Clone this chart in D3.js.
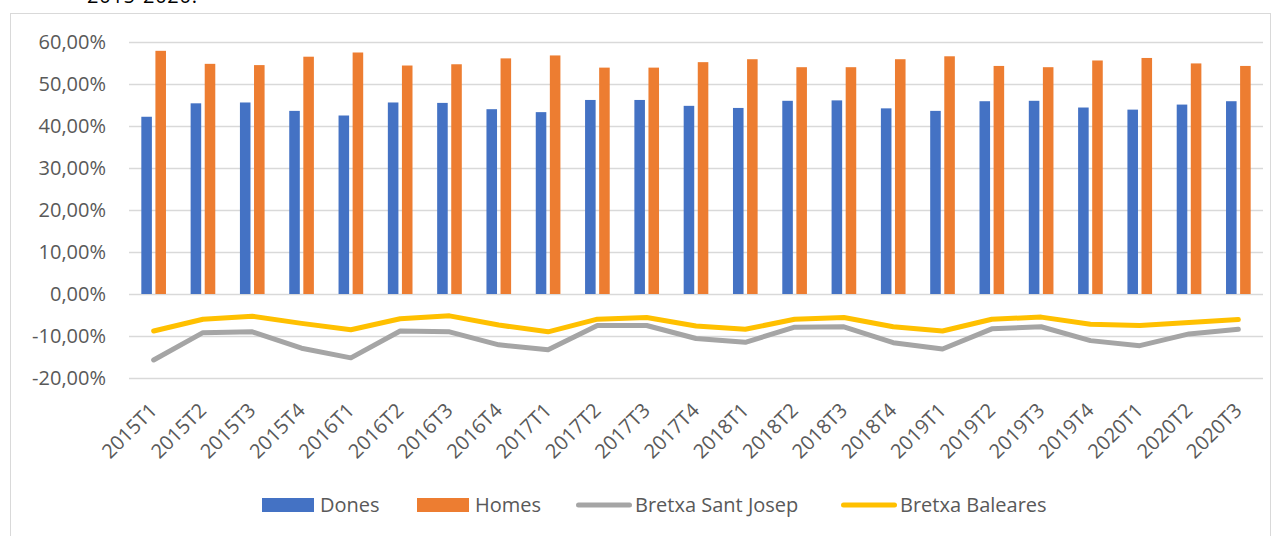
<!DOCTYPE html>
<html>
<head>
<meta charset="utf-8">
<script src="https://cdn.jsdelivr.net/npm/d3@7"></script>
<style>
  body { margin: 0; background: #fff; }
  svg { display: block; font-family: "Open Sans", sans-serif; }
</style>
</head>
<body>
<div id="chart"></div>
<script>
// quarters on the category axis
var categories = ["2015T1", "2015T2", "2015T3", "2015T4", "2016T1", "2016T2", "2016T3", "2016T4",
                  "2017T1", "2017T2", "2017T3", "2017T4", "2018T1", "2018T2", "2018T3", "2018T4",
                  "2019T1", "2019T2", "2019T3", "2019T4", "2020T1", "2020T2", "2020T3"];

// percentages
var dones = [42.2, 45.4, 45.6, 43.6, 42.5, 45.6, 45.5, 44.0, 43.3, 46.2, 46.2, 44.8,
             44.3, 46.0, 46.1, 44.2, 43.6, 45.9, 46.0, 44.4, 43.9, 45.1, 45.9];
var homes = [57.9, 54.8, 54.5, 56.5, 57.5, 54.4, 54.7, 56.1, 56.8, 53.9, 53.9, 55.2,
             55.9, 54.0, 54.0, 55.9, 56.6, 54.3, 54.0, 55.6, 56.2, 54.9, 54.3];
var bretxaSantJosep = [-15.7, -9.2, -9.0, -12.9, -15.2, -8.8, -9.0, -12.1, -13.3, -7.5, -7.5, -10.6,
                       -11.5, -7.9, -7.8, -11.6, -13.1, -8.3, -7.8, -11.1, -12.3, -9.5, -8.4];
var bretxaBaleares = [-8.8, -6.0, -5.3, -7.0, -8.5, -5.9, -5.2, -7.4, -9.0, -6.0, -5.6, -7.6,
                      -8.4, -6.0, -5.6, -7.8, -8.8, -6.0, -5.5, -7.2, -7.5, -6.8, -6.1];

var yTicks = [-20, -10, 0, 10, 20, 30, 40, 50, 60];
var barSeries = ["Dones", "Homes"];
var lineSeries = ["Bretxa Sant Josep", "Bretxa Baleares"];

var width = 1278, height = 536;
var colors = {"Dones": "#4472C4", "Homes": "#ED7D31", "Bretxa Sant Josep": "#A5A5A5", "Bretxa Baleares": "#FFC000"};
var textColor = "#595959";

var svg = d3.select("#chart").append("svg")
    .attr("width", width)
    .attr("height", height);

// caption cut off at the top of the picture
svg.append("text")
    .attr("x", 87).attr("y", 3)
    .attr("font-size", 20)
    .attr("textLength", 110)
    .attr("fill", "#000")
    .text("2015-2020.");

// chart frame
svg.append("rect")
    .attr("x", 10.5).attr("y", 13.5)
    .attr("width", 1260).attr("height", 540)
    .attr("fill", "#fff")
    .attr("stroke", "#d9d9d9");

var plot = {left: 129, right: 1263, top: 42, bottom: 378};

var x0 = d3.scaleBand().domain(categories).range([plot.left, plot.right]).padding(0);
var bw = x0.bandwidth();
var x1 = d3.scaleBand().domain(barSeries).range([bw * 0.25, bw * 0.75]).paddingInner(0.25);
var y = d3.scaleLinear().domain([-20, 60]).range([plot.bottom, plot.top]);

var locale = d3.formatLocale({decimal: ",", thousands: ".", grouping: [3], currency: ["", "€"], minus: "-"});
var pct = locale.format(".2%");

// gridlines
svg.append("g")
    .attr("transform", "translate(" + plot.left + ",0)")
    .call(d3.axisLeft(y).tickValues(yTicks).tickSize(-(plot.right - plot.left)).tickFormat(""))
    .call(function(g) {
        g.select(".domain").remove();
        g.selectAll("line").attr("stroke", "#d9d9d9").attr("stroke-width", 1.3);
    });

// y labels
svg.append("g")
    .attr("transform", "translate(" + plot.left + ",0)")
    .call(d3.axisLeft(y).tickValues(yTicks).tickSize(0).tickPadding(23)
          .tickFormat(function(d) { return pct(d / 100); }))
    .call(function(g) {
        g.select(".domain").remove();
        g.selectAll("text")
            .attr("font-family", "'Open Sans', sans-serif")
            .attr("font-size", 20)
            .attr("fill", textColor);
    });

// bars
var groups = svg.append("g").selectAll("g")
    .data(categories)
    .enter().append("g")
    .attr("transform", function(d) { return "translate(" + x0(d) + ",0)"; });

groups.selectAll("rect")
    .data(function(d, i) { return [{k: "Dones", v: dones[i]}, {k: "Homes", v: homes[i]}]; })
    .enter().append("rect")
    .attr("x", function(d) { return x1(d.k); })
    .attr("width", x1.bandwidth())
    .attr("y", function(d) { return y(Math.max(0, d.v)); })
    .attr("height", function(d) { return Math.abs(y(d.v) - y(0)); })
    .attr("fill", function(d) { return colors[d.k]; });

// gap lines
var line = d3.line()
    .x(function(d, i) { return x0(categories[i]) + bw / 2; })
    .y(function(d) { return y(d); });

[[bretxaSantJosep, "Bretxa Sant Josep"], [bretxaBaleares, "Bretxa Baleares"]].forEach(function(s) {
    svg.append("path")
        .datum(s[0])
        .attr("d", line)
        .attr("fill", "none")
        .attr("stroke", colors[s[1]])
        .attr("stroke-width", 5)
        .attr("stroke-linejoin", "round")
        .attr("stroke-linecap", "round");
});

// category labels
svg.append("g")
    .attr("transform", "translate(0," + plot.bottom + ")")
    .call(d3.axisBottom(x0).tickSize(0))
    .call(function(g) {
        g.select(".domain").remove();
        g.selectAll("text")
            .attr("x", 0).attr("y", 0).attr("dy", null)
            .attr("text-anchor", "end")
            .attr("transform", "translate(4.7,33.6) rotate(-45)")
            .attr("font-family", "'Open Sans', sans-serif")
            .attr("font-size", 20)
            .attr("fill", textColor);
    });

// legend
var legendX = [262, 417, 576, 841];
var legend = svg.append("g");
barSeries.concat(lineSeries).forEach(function(name, i) {
    var g = legend.append("g").attr("transform", "translate(" + legendX[i] + ",505)");
    var isLine = i >= 2;
    if (isLine) {
        g.append("line")
            .attr("x1", 2.5).attr("x2", 53.5)
            .attr("y1", 0).attr("y2", 0)
            .attr("stroke", colors[name])
            .attr("stroke-width", 5)
            .attr("stroke-linecap", "round");
    } else {
        g.append("rect")
            .attr("x", 0).attr("y", -7)
            .attr("width", 52).attr("height", 14)
            .attr("fill", colors[name]);
    }
    g.append("text")
        .attr("x", isLine ? 59 : 58)
        .attr("y", 7)
        .attr("font-size", 20)
        .attr("fill", textColor)
        .text(name);
});
</script>
</body>
</html>
